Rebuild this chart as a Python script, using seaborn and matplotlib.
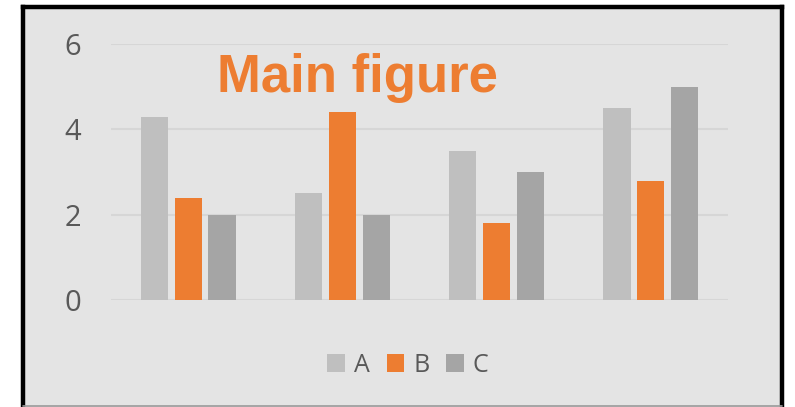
import matplotlib
matplotlib.use("Agg")
import matplotlib.pyplot as plt
from matplotlib.lines import Line2D
from matplotlib.patches import Rectangle
import seaborn as sns
import pandas as pd

# Chart data
groups = ["G1", "G2", "G3", "G4"]
series = ["A", "B", "C"]
values_a = [4.3, 2.5, 3.5, 4.5]
values_b = [2.4, 4.4, 1.8, 2.8]
values_c = [2.0, 2.0, 3.0, 5.0]
y_ticks = [0, 2, 4, 6]
title_text = "Main figure"

colors = {"A": "#bfbfbf", "B": "#ed7d31", "C": "#a5a5a5"}
panel_bg = "#e4e4e4"
text_gray = "#595959"

df = pd.DataFrame({
    "group": groups * 3,
    "series": ["A"] * 4 + ["B"] * 4 + ["C"] * 4,
    "value": values_a + values_b + values_c,
})

sns.set_theme(style="white")
plt.rcParams["font.family"] = ["Open Sans", "DejaVu Sans"]

W, H = 795, 407
fig = plt.figure(figsize=(W / 100, H / 100), dpi=100)
fig.patch.set_facecolor("white")


def fx(px):
    return px / W


def fy(py):
    return 1 - py / H


# Panel background and frame
fig.add_artist(Rectangle((fx(23), fy(410)), fx(783) - fx(23), fy(7) - fy(410),
                         transform=fig.transFigure, facecolor=panel_bg,
                         edgecolor="none", zorder=0))
frame_kw = dict(transform=fig.transFigure, color="black", lw=3.2,
                solid_capstyle="projecting", zorder=1)
fig.add_artist(Line2D([fx(23), fx(23)], [fy(7), fy(412)], **frame_kw))
fig.add_artist(Line2D([fx(23), fx(782)], [fy(7), fy(7)], **frame_kw))
fig.add_artist(Line2D([fx(782), fx(782)], [fy(7), fy(412)], **frame_kw))
fig.add_artist(Line2D([fx(23), fx(782)], [fy(406), fy(406)],
                      transform=fig.transFigure, color="#9a9a9a", lw=1.2, zorder=1))

ax = fig.add_axes([fx(111), fy(300), fx(728) - fx(111), fy(44) - fy(300)])
ax.set_facecolor("none")

sns.barplot(data=df, x="group", y="value", hue="series", hue_order=series,
            palette=colors, width=0.66, gap=0.2, saturation=1,
            edgecolor="none", linewidth=0,
            ax=ax, legend=False, zorder=3)

ax.set_ylim(0, 6)
ax.set_xlim(-0.5, 3.5)
ax.set_yticks(y_ticks)
ax.set_yticklabels([str(t) for t in y_ticks], fontsize=21, color=text_gray)
ax.tick_params(axis="y", length=0, pad=21.5)
ax.set_xticks([])
ax.set_xlabel("")
ax.set_ylabel("")
for s in ax.spines.values():
    s.set_visible(False)
ax.yaxis.grid(True, color="#d6d6d6", lw=1.5, zorder=0)
ax.set_axisbelow(True)

fig.text(fx(357.5), fy(78), title_text, ha="center", va="center",
         fontsize=38, fontweight="bold", color="#ed7d31",
         family=["Liberation Sans", "DejaVu Sans"])

handles = [Rectangle((0, 0), 1, 1, facecolor=colors[s], edgecolor="none") for s in series]
fig.legend(handles, series, loc="center", bbox_to_anchor=(fx(408), fy(365)),
           ncol=3, frameon=False, fontsize=18, labelcolor=text_gray,
           handlelength=0.7, handleheight=0.7, handletextpad=0.36,
           columnspacing=0.68)

fig.savefig("out.png", dpi=100, facecolor="white")
